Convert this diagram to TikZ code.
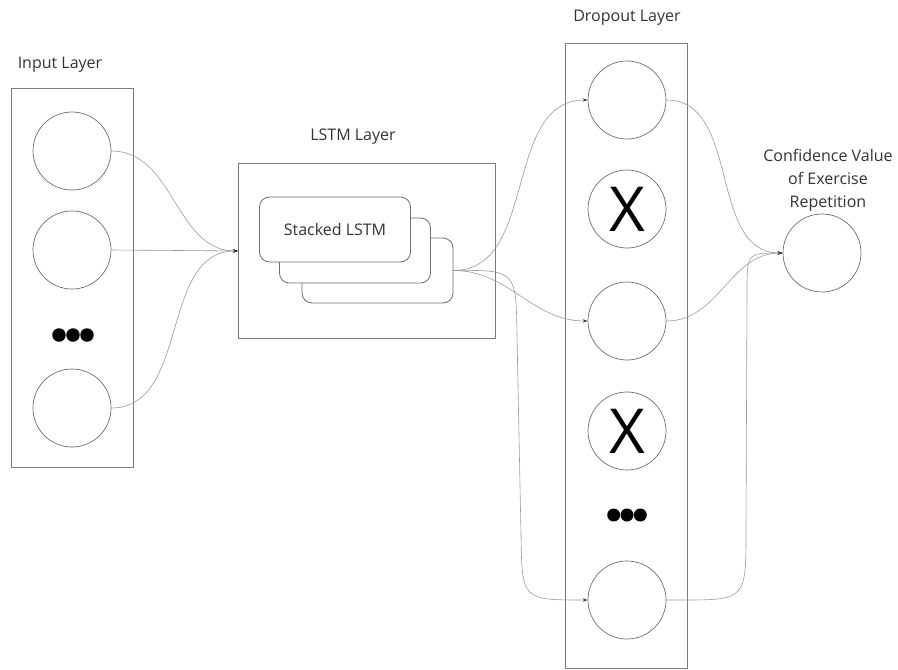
\documentclass[tikz,border=0pt]{standalone}
\usepackage{fontspec}
\setmainfont{Open Sans}
\usetikzlibrary{arrows.meta}
\definecolor{boxgray}{HTML}{7A7A7A}
\definecolor{circgray}{HTML}{6E6E6E}
\definecolor{linegray}{HTML}{9A9A9A}
\definecolor{txtgray}{HTML}{333333}
\begin{document}
\begin{tikzpicture}[x=1pt,y=-1pt,
  layerbox/.style={draw=boxgray,line width=0.9pt,inner sep=0pt,anchor=north west},
  neuron/.style={circle,draw=circgray,line width=0.7pt,minimum size=78pt,inner sep=0pt,fill=white},
  dropped/.style={neuron,font=\fontsize{62}{62}\selectfont,text=black},
  stackbox/.style={draw=circgray,line width=0.8pt,rounded corners=10pt,fill=white,minimum width=151pt,minimum height=65pt,inner sep=0pt},
  dotn/.style={circle,fill=black,minimum size=13.5pt,inner sep=0pt},
  lbl/.style={font=\fontsize{16}{23}\selectfont,text=txtgray,align=center},
  conn/.style={draw=linegray,line width=0.6pt},
  arr/.style={conn,-{Stealth[length=5pt,width=3.5pt,color=black!75]}}
]
\useasboundingbox (0,0) rectangle (898,670);

% labels
\node[lbl] (linput) at (60,65) {Input Layer};
\node[lbl] (llstm) at (353,137) {LSTM Layer};
\node[lbl] (ldrop) at (627,18) {Dropout Layer};
\node[lbl] (lout) at (828,180) {Confidence Value\\of Exercise\\Repetition};

% layer boxes
\node[layerbox,minimum width=122pt,minimum height=379pt] (inbox) at (11,88) {};
\node[layerbox,minimum width=257pt,minimum height=175pt] (lstmbox) at (238,163) {};
\node[layerbox,minimum width=122pt,minimum height=625pt] (dropbox) at (565,43) {};

% stacked LSTM
\node[stackbox] (s3) at (377.5,270.5) {};
\node[stackbox] (s2) at (355,250.5) {};
\node[stackbox,lbl] (s1) at (335,229.5) {Stacked LSTM};

% input neurons
\node[neuron] (i1) at (72,151) {};
\node[neuron] (i2) at (72,250) {};
\node[dotn] (ia) at (59,335) {};
\node[dotn] (ib) at (73,335) {};
\node[dotn] (ic) at (87,335) {};
\node[neuron] (i3) at (72,408) {};

% dropout neurons
\node[neuron] (d1) at (627,100) {};
\node[dropped] (d2) at (627,209) {X};
\node[neuron] (d3) at (627,321) {};
\node[dropped] (d4) at (627,431) {X};
\node[dotn,minimum size=13pt] (da) at (613.7,515) {};
\node[dotn,minimum size=13pt] (db) at (627,515) {};
\node[dotn,minimum size=13pt] (dc) at (640.3,515) {};
\node[neuron] (d5) at (627,600) {};

% output neuron
\node[neuron] (o) at (822,253) {};

% input -> LSTM
\draw[arr] (i1.east) to[out=0,in=180] (lstmbox.west);
\draw[arr] (i2.east) -- (lstmbox.west);
\draw[arr] (i3.east) to[out=0,in=180] (lstmbox.west);

% LSTM -> dropout
\draw[arr] (s3.east) to[out=0,in=180] (d1.west);
\draw[arr] (s3.east) to[out=0,in=180] (d3.west);
\coordinate (b1) at (516,270);
\coordinate (b2) at (522,600);
\draw[arr] (s3.east) .. controls (b1) .. (517,335) -- (521,535) .. controls (b2) .. (d5.west);

% dropout -> output
\draw[arr] (d1.east) to[out=0,in=180] (o.west);
\draw[arr] (d3.east) to[out=0,in=180] (o.west);
\coordinate (c1) at (746,600);
\coordinate (c2) at (747,253);
\draw[arr] (d5.east) -- (680,600) .. controls (c1) .. (746,530) -- (747,292) .. controls (c2) .. (o.west);
\end{tikzpicture}
\end{document}
